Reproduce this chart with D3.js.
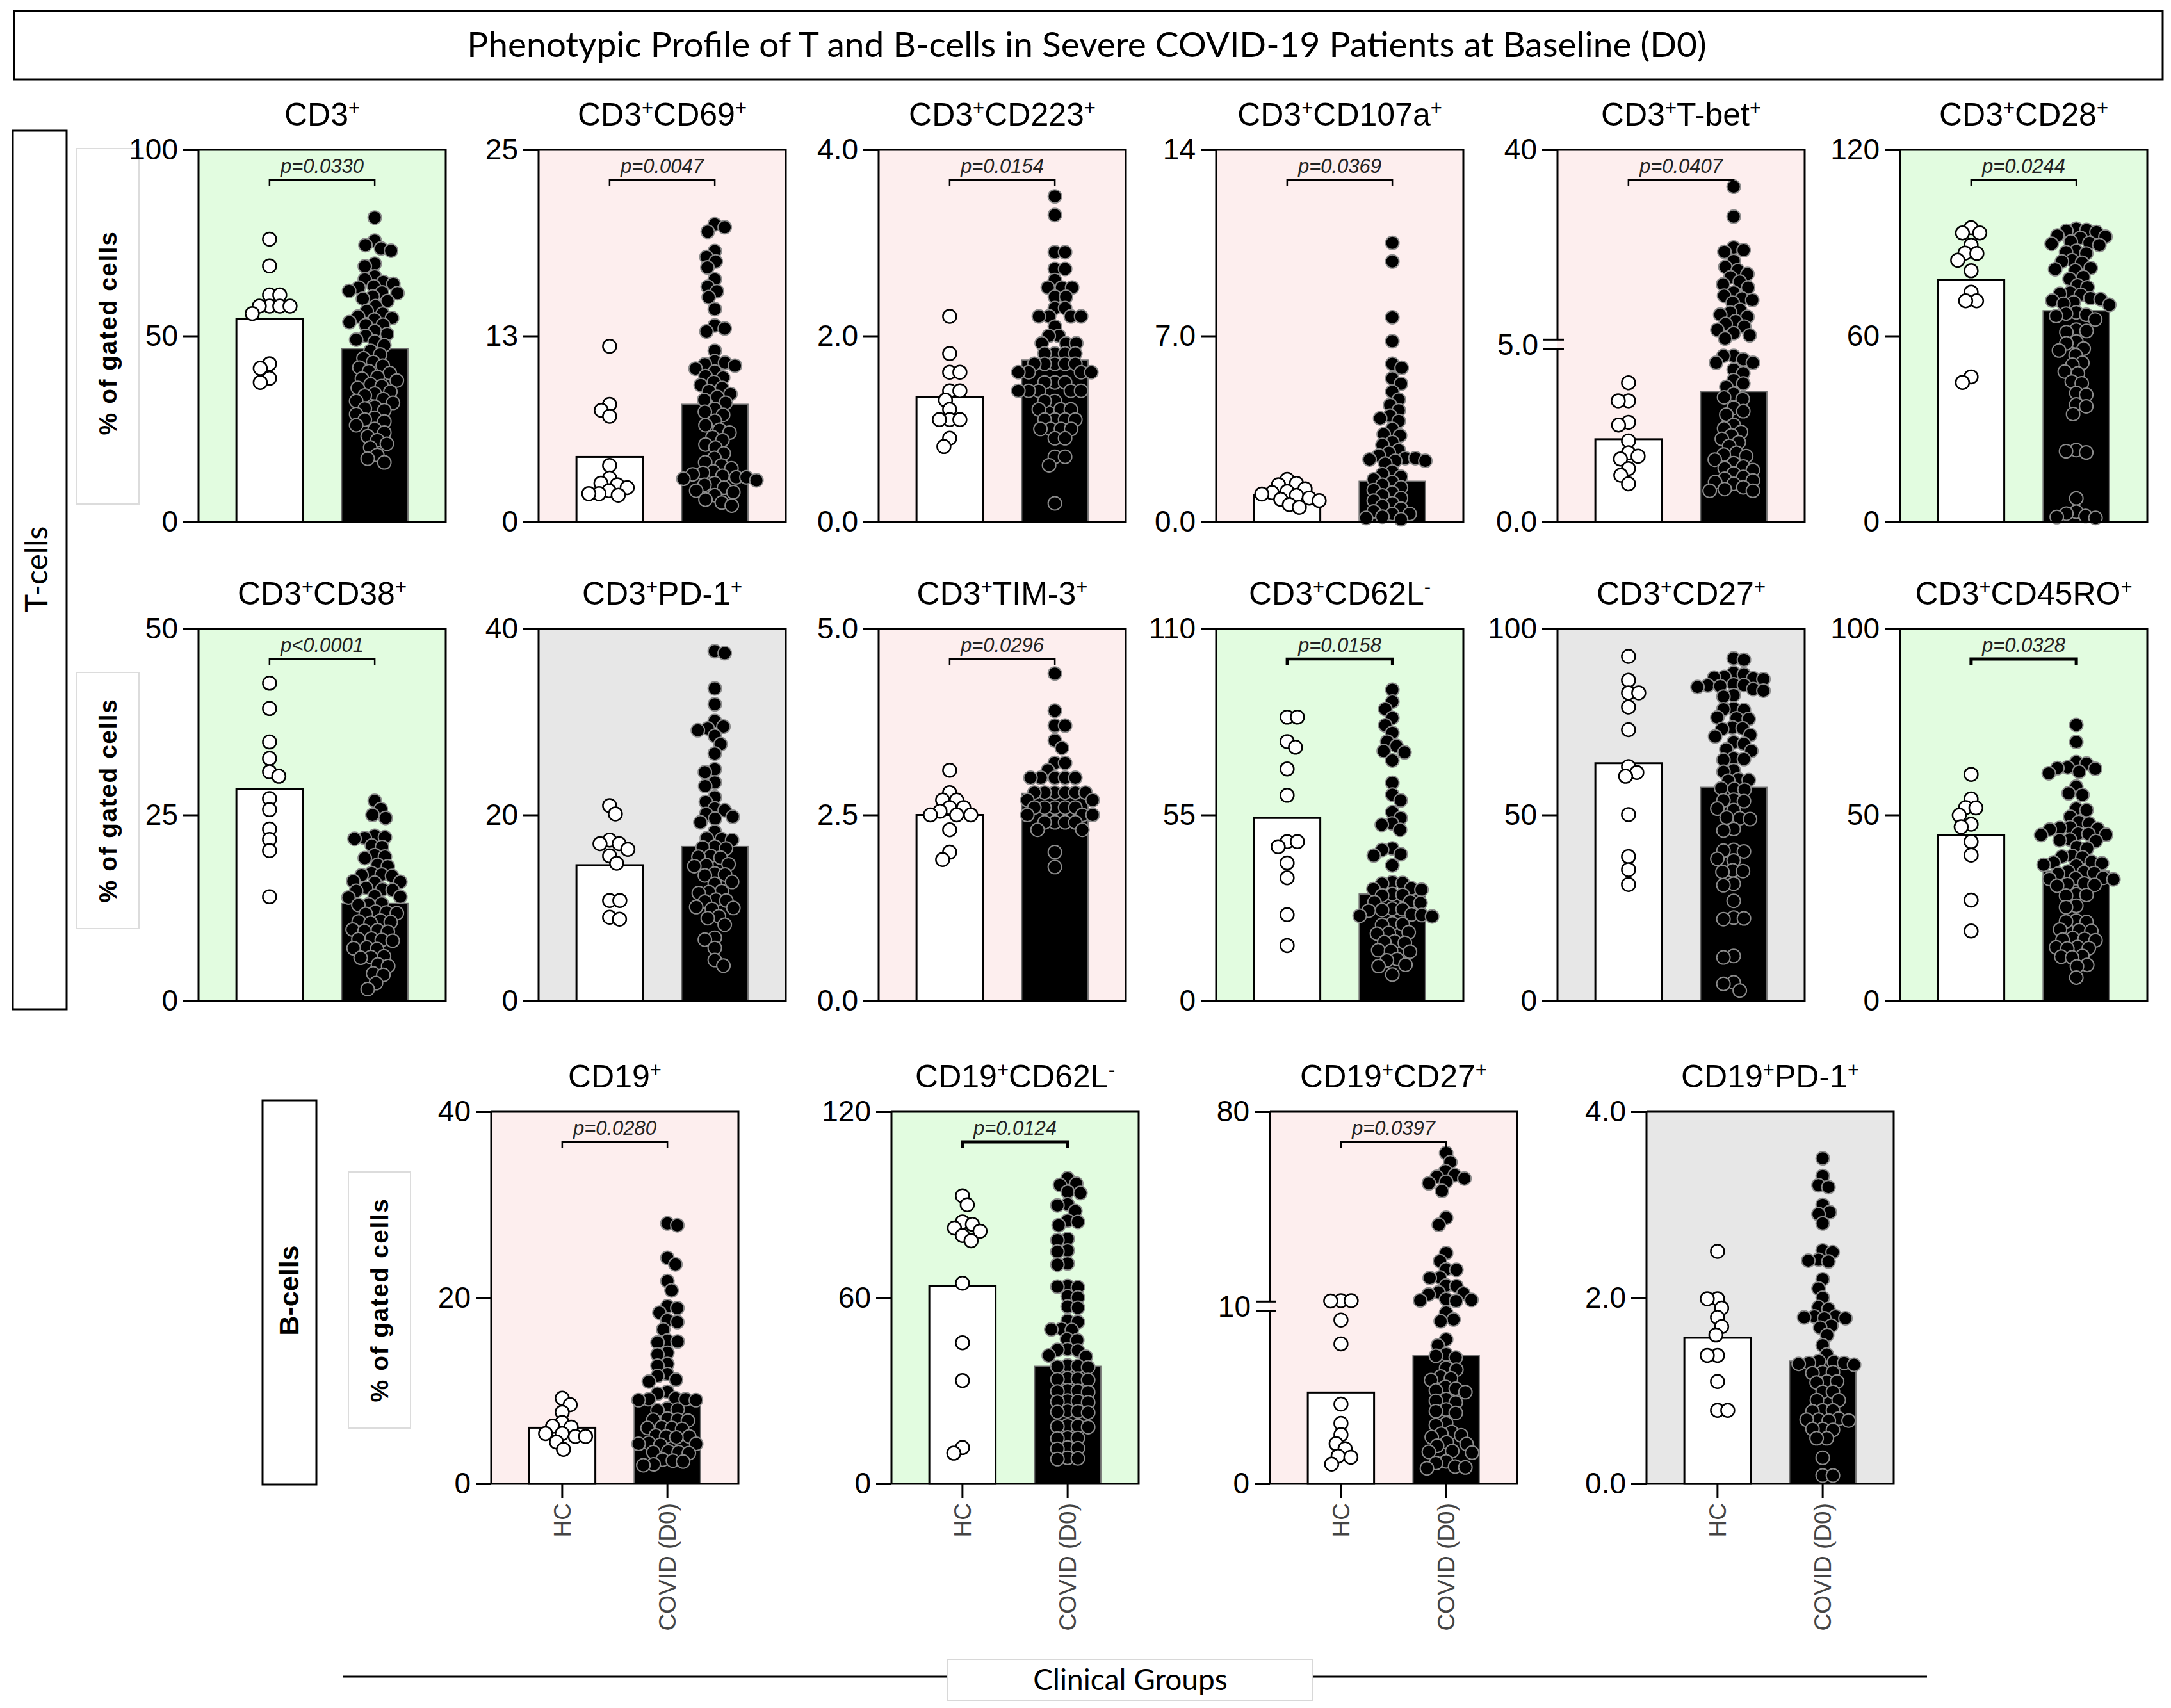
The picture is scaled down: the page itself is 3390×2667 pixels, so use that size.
<!DOCTYPE html>
<html>
<head>
<meta charset="utf-8">
<script src="https://cdn.jsdelivr.net/npm/d3@7"></script>
<style>
  html, body { margin: 0; padding: 0; background: #fff; }
  svg { display: block; }
</style>
</head>
<body>
<svg id="chart" width="3390" height="2667"></svg>
<script>
// ---- data ----
var GROUPS = ['HC', 'COVID (D0)'];
var TITLES = ['CD3^+', 'CD3^+CD69^+', 'CD3^+CD223^+', 'CD3^+CD107a^+', 'CD3^+T-bet^+', 'CD3^+CD28^+',
  'CD3^+CD38^+', 'CD3^+PD-1^+', 'CD3^+TIM-3^+', 'CD3^+CD62L^-', 'CD3^+CD27^+', 'CD3^+CD45RO^+',
  'CD19^+', 'CD19^+CD62L^-', 'CD19^+CD27^+', 'CD19^+PD-1^+'];
var Y_MAX = [100, 25, 4, 14, 40, 120, 50, 40, 5, 110, 100, 100, 40, 120, 80, 4];
var Y_TICKS = [[0, 50, 100], [0, 12.5, 25], [0, 2, 4], [0, 7, 14], [0, 5, 40], [0, 60, 120],
  [0, 25, 50], [0, 20, 40], [0, 2.5, 5], [0, 55, 110], [0, 50, 100], [0, 50, 100],
  [0, 20, 40], [0, 60, 120], [0, 10, 80], [0, 2, 4]];
var Y_TICK_LABELS = [['0', '50', '100'], ['0', '13', '25'], ['0.0', '2.0', '4.0'], ['0.0', '7.0', '14'], ['0.0', '5.0', '40'], ['0', '60', '120'],
  ['0', '25', '50'], ['0', '20', '40'], ['0.0', '2.5', '5.0'], ['0', '55', '110'], ['0', '50', '100'], ['0', '50', '100'],
  ['0', '20', '40'], ['0', '60', '120'], ['0', '10', '80'], ['0.0', '2.0', '4.0']];
var Y_BREAK = [null, null, null, null, 5, null, null, null, null, null, null, null, null, null, 10, null];
var P_LABELS = ['p=0.0330', 'p=0.0047', 'p=0.0154', 'p=0.0369', 'p=0.0407', 'p=0.0244',
  'p<0.0001', null, 'p=0.0296', 'p=0.0158', null, 'p=0.0328',
  'p=0.0280', 'p=0.0124', 'p=0.0397', null];
var BRACKET_W = [2.5, 2.5, 2.5, 2.5, 2.5, 2.5, 2.5, 2.5, 2.5, 4.5, 2.5, 5, 2.5, 5, 2.5, 2.5];
var BG = ['g', 'p', 'p', 'p', 'p', 'g', 'g', 'n', 'p', 'g', 'n', 'g', 'p', 'g', 'p', 'n'];
var BAR_HC = [54.6, 4.37, 1.34, 1.01, 2.39, 78.0, 28.5, 14.6, 2.5, 54.1, 63.9, 44.5, 6.03, 63.9, 5.28, 1.57];
var BAR_COVID = [46.6, 7.9, 1.74, 1.53, 3.77, 68.1, 13.1, 16.6, 2.79, 31.6, 57.4, 34.9, 8.5, 37.9, 7.4, 1.32];

var hc_cd3 = [76, 68.8, 61, 61, 58, 58, 58, 58, 56, 42.5, 41.3, 38.6, 37.5];
var covid_cd3 = [81.8, 75.6, 74.4, 73.5, 72.9, 69.4, 68.7, 66, 65.2, 64.5, 64, 63.3, 63, 62.1, 61.7, 61.5, 60.6, 60, 59.4, 58, 56.7, 56, 55.2, 54.8, 54.4, 53.7, 53, 52.9, 51.3, 50.5, 50, 49, 48.5, 47.5, 46, 45, 44, 43, 42, 41.5, 40.5, 40, 39, 38.5, 38, 37, 36.5, 36, 35, 34.5, 34, 33, 32.5, 32, 31, 30.5, 30, 29, 28, 27.5, 27, 26, 25, 24, 23, 22, 21, 20, 18, 17, 16];
var hc_cd69 = [11.8, 7.9, 7.5, 7.1, 3.8, 2.95, 2.6, 2.5, 2.3, 2.1, 1.9, 1.8, 1.9];
var covid_cd69 = [20, 19.8, 19.5, 18.2, 17.8, 17.5, 17.1, 16.3, 15.8, 15.5, 15.1, 14.3, 13.2, 13, 12.8, 11.5, 10.8, 10.7, 10.6, 10.5, 10.3, 10.1, 9.8, 9.7, 9.4, 9.2, 9, 8.8, 8.6, 8.4, 8.2, 8, 7.6, 7.4, 7.2, 6.8, 6.5, 6.2, 6, 5.7, 5.5, 5.2, 5, 4.6, 4.3, 4, 3.8, 3.6, 3.4, 3.3, 3.2, 3.1, 3.0, 3.0, 2.9, 2.8, 2.6, 2.5, 2.3, 2.1, 2.0, 1.8, 1.5, 1.3, 1.1];
var hc_cd223 = [2.21, 1.81, 1.61, 1.61, 1.41, 1.41, 1.31, 1.21, 1.10, 1.10, 1.10, 0.90, 0.81];
var covid_cd223 = [3.5, 3.3, 2.9, 2.9, 2.72, 2.72, 2.6, 2.52, 2.52, 2.52, 2.42, 2.42, 2.3, 2.3, 2.21, 2.21, 2.21, 2.21, 2.1, 2.0, 2.0, 1.92, 1.92, 1.92, 1.81, 1.81, 1.81, 1.81, 1.7, 1.7, 1.7, 1.7, 1.7, 1.61, 1.61, 1.61, 1.61, 1.5, 1.5, 1.5, 1.41, 1.41, 1.41, 1.41, 1.41, 1.3, 1.3, 1.21, 1.21, 1.21, 1.1, 1.1, 1.1, 1.1, 1.0, 1.0, 1.0, 1.0, 0.9, 0.9, 0.7, 0.7, 0.61, 0.2];
var hc_cd107a = [1.6, 1.45, 1.4, 1.25, 1.15, 1.1, 1.05, 1.0, 0.9, 0.85, 0.8, 0.65, 0.55];
var covid_cd107a = [10.5, 9.8, 7.7, 6.8, 5.95, 5.8, 5.4, 5.2, 4.9, 4.6, 4.4, 4.2, 4.0, 3.9, 3.8, 3.5, 3.3, 3.25, 3.0, 2.9, 2.7, 2.6, 2.5, 2.4, 2.4, 2.35, 2.3, 2.3, 2.2, 1.9, 1.8, 1.7, 1.6, 1.5, 1.4, 1.3, 1.2, 1.1, 1.0, 0.9, 0.8, 0.7, 0.6, 0.5, 0.4, 0.3, 0.3, 0.2, 0.15, 0.1];
var hc_tbet = [4.02, 3.5, 3.5, 2.88, 2.8, 2.34, 2.0, 1.9, 1.82, 1.54, 1.35, 1.1];
var covid_tbet = [33.2, 27.7, 22.0, 21.5, 21.2, 19.5, 18.4, 17.8, 17.1, 16.5, 15.7, 15.2, 14.6, 13.7, 13.1, 12.6, 12.3, 11.8, 10.5, 10.0, 9.6, 9.2, 8.4, 7.9, 7.4, 6.8, 6.2, 5.8, 5.2, 4.8, 4.8, 4.7, 4.6, 4.6, 4.4, 4.3, 4.1, 4.0, 3.9, 3.7, 3.6, 3.55, 3.3, 3.2, 3.1, 2.8, 2.7, 2.6, 2.5, 2.4, 2.3, 2.2, 2.0, 1.95, 1.9, 1.8, 1.7, 1.6, 1.55, 1.5, 1.4, 1.3, 1.25, 1.2, 1.15, 1.1, 1.0, 0.95, 0.9, 0.9];
var hc_cd28 = [94.9, 93.2, 93.2, 89.3, 86.7, 86.6, 84.4, 81.0, 74.1, 71.3, 71.3, 46.8, 45.0];
var covid_cd28 = [94.6, 94.2, 93.9, 93.5, 92.4, 92, 91.6, 90.4, 90, 89.7, 89.3, 87.4, 87, 86.6, 84.4, 84, 83.6, 81.9, 81.5, 81.1, 79, 78.4, 76.3, 75.7, 74, 73.6, 73.2, 72.2, 71.8, 71.4, 70.8, 70.4, 70, 67.6, 67.2, 66.8, 66.4, 65.3, 62, 61.6, 61.2, 58.2, 57.6, 55.9, 55.3, 53.8, 51.3, 50.7, 48.5, 47.9, 45.3, 44.7, 41.6, 41, 37.9, 37.3, 34.8, 23.2, 22.8, 22.4, 7.6, 3.3, 2.7, 1.9, 1.6, 1.3];
var hc_cd38 = [42.7, 39.3, 34.8, 32.6, 30.8, 30.2, 27.2, 25.7, 23.1, 21.7, 20.2, 14.0];
var covid_cd38 = [26.9, 25.8, 25, 24.6, 22.2, 22, 21.9, 21.8, 20.9, 20.7, 19.6, 19.4, 19.2, 18.3, 18.1, 17.2, 17.0, 16.9, 16.8, 16.1, 16.0, 15.9, 15.2, 15.0, 14.9, 14.8, 14.1, 14.0, 13.9, 13.1, 13.0, 12.9, 12.0, 11.9, 11.8, 11.7, 10.8, 10.7, 10.6, 10.5, 9.6, 9.5, 9.4, 9.3, 8.4, 8.3, 8.2, 8.1, 7.2, 7.1, 7.0, 6.0, 5.9, 5.8, 4.9, 4.7, 3.7, 3.5, 2.4, 1.6];
var hc_pd1 = [21.0, 20.1, 17.3, 16.9, 16.9, 16.3, 15.6, 14.8, 10.8, 10.8, 9.0, 8.8];
var covid_pd1 = [37.6, 37.4, 33.6, 31.9, 30.1, 29.5, 29.3, 29.1, 28.5, 27.6, 26.6, 24.9, 24.6, 23.5, 23.1, 21.9, 21.4, 20.7, 20.5, 20.1, 19.8, 19.6, 19.2, 18.2, 17.5, 17.4, 17.3, 16.6, 16.5, 16.4, 15.6, 15.5, 15.4, 14.7, 14.6, 14.5, 13.7, 13.6, 13.5, 12.8, 12.6, 11.8, 11.7, 11.6, 10.9, 10.8, 10.7, 10.1, 10.0, 9.9, 9.1, 8.9, 8.2, 6.8, 6.6, 5.7, 4.4, 3.8];
var hc_tim3 = [3.1, 2.8, 2.7, 2.7, 2.6, 2.6, 2.55, 2.5, 2.5, 2.5, 2.3, 2.0, 1.9];
var covid_tim3 = [4.4, 3.9, 3.7, 3.7, 3.5, 3.4, 3.2, 3.2, 3.1, 3.0, 3.0, 3.0, 3.0, 3.0, 2.8, 2.8, 2.8, 2.8, 2.8, 2.8, 2.7, 2.7, 2.6, 2.6, 2.6, 2.6, 2.6, 2.5, 2.5, 2.5, 2.4, 2.4, 2.4, 2.4, 2.3, 2.3, 2.0, 1.8];
var hc_cd62l = [83.9, 83.9, 76.7, 75, 68.6, 60.8, 47.1, 47.1, 45.6, 40.8, 36.4, 25.5, 16.4];
var covid_cd62l = [92, 88.5, 86.3, 83.7, 81.5, 79.3, 76.7, 75.4, 73.9, 73.5, 71.1, 64.5, 61, 59.3, 55.8, 54.1, 52.5, 52.1, 50.6, 45.1, 44.7, 43.4, 43.0, 40.1, 35.1, 34.9, 34.7, 33.3, 33.1, 32.9, 31.6, 31.4, 31.2, 29.4, 29.2, 29.0, 27.3, 27.1, 26.9, 26.7, 25.6, 25.4, 25.2, 25.0, 22.9, 22.7, 22.5, 20.3, 20.1, 19.9, 17.6, 17.4, 17.2, 15.0, 14.8, 14.6, 12.4, 12.0, 10.7, 10.3, 7.8];
var hc_cd27 = [92.6, 86.2, 82.8, 82.8, 79.0, 72.9, 63.0, 61.4, 60.4, 50.1, 38.8, 35.3, 31.3];
var covid_cd27 = [92.1, 91.7, 88.2, 87.8, 87.1, 86.9, 86.7, 86.5, 85.1, 84.9, 84.8, 84.6, 84.4, 83.8, 83.4, 82.2, 81.8, 78.6, 78.4, 78.2, 76.2, 76.0, 75.8, 73.5, 73.3, 73.1, 71.5, 71.1, 69.5, 69.1, 67.6, 67.2, 65.2, 65.0, 64.8, 62.0, 61.6, 59.6, 59.4, 59.2, 57.2, 57.0, 56.8, 54.1, 53.9, 53.7, 51.7, 51.3, 49.3, 49.1, 48.9, 46.2, 45.8, 40.6, 40.4, 40.2, 38.2, 37.8, 35.1, 34.9, 34.7, 31.5, 31.1, 26.9, 22.4, 22.2, 22.0, 12.1, 11.7, 5.0, 4.6, 2.8];
var hc_cd45ro = [60.9, 54.3, 52, 51.9, 49.9, 47.5, 46.8, 42.8, 39.2, 27.1, 18.8];
var covid_cd45ro = [74.2, 69.6, 64.2, 63.8, 62.8, 62.6, 62.4, 61.6, 61.2, 57.6, 55.8, 55.4, 51.7, 51.3, 49.5, 48.1, 47.7, 46.7, 46.5, 46.3, 46.1, 45.0, 44.9, 44.7, 44.6, 43.4, 43.2, 43.0, 41.4, 41.0, 39.0, 38.8, 38.6, 37.4, 37.2, 37.0, 36.6, 36.4, 34.8, 34.6, 34.4, 34.2, 33.1, 33.0, 32.8, 32.7, 31.6, 31.4, 31.2, 31.0, 28.7, 28.5, 28.3, 25.6, 25.2, 21.6, 21.4, 21.2, 19.2, 19.0, 18.8, 16.9, 16.7, 16.5, 16.3, 14.5, 14.4, 14.2, 14.1, 12.1, 11.9, 11.7, 9.7, 9.3, 6.3];
var hc_cd19 = [9.2, 8.5, 7.7, 6.6, 6.2, 6.1, 5.4, 5.4, 5.1, 5.1, 4.5, 3.7];
var covid_cd19 = [28.0, 27.8, 24.3, 23.6, 21.8, 20.8, 19.1, 18.9, 18.4, 17.6, 17.4, 16.6, 15.4, 15.3, 15.2, 14.1, 13.9, 12.9, 12.7, 11.8, 11.6, 11.2, 11.0, 9.9, 9.7, 9.2, 9.1, 9.1, 9.0, 9.0, 8.1, 8.0, 7.9, 7.0, 6.9, 6.9, 6.8, 6.1, 6.0, 6.0, 5.9, 5.2, 5.1, 5.1, 5.0, 4.4, 4.3, 4.3, 4.2, 3.5, 3.4, 3.4, 3.3, 2.6, 2.5, 2.4, 2.1, 2.0];
var hc_cd19cd62l = [92.9, 90, 84.5, 83.7, 82.5, 81.5, 80.1, 78.4, 64.7, 45.5, 33.3, 11.7, 9.9];
var covid_cd19cd62l = [98.6, 96.8, 96.4, 94.2, 93.8, 90.2, 89.8, 88, 84.9, 84.5, 83.4, 79, 78.6, 75.3, 74.9, 71.1, 70.7, 63.8, 63.6, 63.4, 60.5, 60.1, 57.2, 56.8, 52.6, 52.2, 50.0, 49.8, 49.6, 46.7, 46.3, 43.4, 43.2, 43.0, 41.4, 41.0, 38.2, 38.0, 37.8, 37.6, 34.1, 33.9, 33.7, 33.5, 30.2, 30.0, 29.8, 29.6, 26.9, 26.7, 26.5, 26.3, 23.6, 23.4, 23.2, 23.0, 18.9, 18.7, 18.5, 18.3, 15.0, 14.8, 14.6, 11.7, 11.5, 11.3, 8.4, 8.2, 8.0];
var hc_cd19cd27 = [10.3, 10.3, 10.2, 9.47, 8.09, 4.61, 3.5, 2.84, 2.32, 2.03, 1.6, 1.54, 1.14];
var covid_cd19cd27 = [64.8, 61.4, 58.1, 56.6, 56.0, 55.4, 54.2, 53.6, 50.8, 40.9, 38.3, 27.9, 24.9, 21.9, 21.7, 18.9, 18.7, 15.9, 15.7, 13.4, 13.0, 12.6, 10.9, 10.6, 10.4, 10.2,
  9.9, 9.5, 9.4, 8.35, 8.0, 7.5, 7.4, 7.3, 6.7, 6.6, 6.2, 6.1, 6.0, 5.6, 5.5, 5.4, 5.3, 4.9, 4.8, 4.7, 4.3, 4.2, 4.1, 3.5, 3.4, 3.0, 2.9, 2.8, 2.7, 2.4, 2.3, 2.2, 1.9, 1.85, 1.8, 1.3, 1.2, 1.0, 0.95, 0.9];
var hc_cd19pd1 = [2.5, 1.99, 1.99, 1.89, 1.79, 1.69, 1.6, 1.38, 1.38, 1.1, 0.79, 0.79];
var covid_cd19pd1 = [3.5, 3.31, 3.21, 3.19, 3.0, 2.92, 2.90, 2.8, 2.51, 2.49, 2.41, 2.40, 2.39, 2.2, 2.1, 2.0, 1.90, 1.88, 1.80, 1.80, 1.79, 1.78, 1.78, 1.70, 1.68, 1.6, 1.49, 1.39, 1.32, 1.31, 1.30, 1.30, 1.29, 1.28, 1.20, 1.20, 1.19, 1.10, 1.10, 1.09, 0.99, 0.99, 0.9, 0.9, 0.79, 0.79, 0.78, 0.70, 0.69, 0.69, 0.68, 0.68, 0.59, 0.59, 0.58, 0.49, 0.49, 0.28, 0.09, 0.09];

var HC_POINTS = [hc_cd3, hc_cd69, hc_cd223, hc_cd107a, hc_tbet, hc_cd28, hc_cd38, hc_pd1, hc_tim3, hc_cd62l, hc_cd27, hc_cd45ro, hc_cd19, hc_cd19cd62l, hc_cd19cd27, hc_cd19pd1];
var COVID_POINTS = [covid_cd3, covid_cd69, covid_cd223, covid_cd107a, covid_tbet, covid_cd28, covid_cd38, covid_pd1, covid_tim3, covid_cd62l, covid_cd27, covid_cd45ro, covid_cd19, covid_cd19cd62l, covid_cd19cd27, covid_cd19pd1];

// ---- layout ----
var ROW_TOP = [234, 982, 1736], PH = 581, PW = 386;
var COL_X = [[310, 841, 1372, 1899, 2432, 2967], [310, 841, 1372, 1899, 2432, 2967], [767, 1392, 1983, 2571]];
var BG_COLOR = { g: '#e2fce0', p: '#fdeeee', n: '#e7e7e7' };
var R = 10.5;
var FONT = '"Liberation Sans", Arial, sans-serif';
var CAL = 'Lato, "Open Sans", sans-serif';

var svg = d3.select('#chart');

// title box
svg.append('rect').attr('x', 22).attr('y', 17).attr('width', 3355).attr('height', 107)
  .attr('fill', '#fff').attr('stroke', '#000').attr('stroke-width', 3);
svg.append('text').attr('x', 1697).attr('y', 89).attr('text-anchor', 'middle')
  .style('font-family', CAL).style('font-size', '55px')
  .text('Phenotypic Profile of T and B-cells in Severe COVID-19 Patients at Baseline (D0)');

// side labels
svg.append('rect').attr('x', 20).attr('y', 204).attr('width', 84).attr('height', 1372)
  .attr('fill', '#fff').attr('stroke', '#000').attr('stroke-width', 3);
svg.append('text').attr('transform', 'translate(74,889) rotate(-90)').attr('text-anchor', 'middle')
  .style('font-family', CAL).style('font-size', '48px').text('T-cells');
svg.append('rect').attr('x', 410).attr('y', 1718).attr('width', 84).attr('height', 600)
  .attr('fill', '#fff').attr('stroke', '#000').attr('stroke-width', 3);
svg.append('text').attr('transform', 'translate(466,2015) rotate(-90)').attr('text-anchor', 'middle')
  .style('font-family', FONT).style('font-size', '43px').style('font-weight', 'bold').text('B-cells');

[[120, 232, 555, 520], [120, 1050, 400, 1250], [544, 1830, 400, 2030]].forEach(function (b) {
  svg.append('rect').attr('x', b[0]).attr('y', b[1]).attr('width', 97).attr('height', b[2])
    .attr('fill', '#fff').attr('stroke', '#dcdcdc').attr('stroke-width', 2);
  svg.append('text').attr('transform', 'translate(' + (b[0] + 62) + ',' + b[3] + ') rotate(-90)')
    .attr('text-anchor', 'middle').style('font-family', FONT).style('font-size', '39px')
    .style('font-weight', 'bold').style('letter-spacing', '1.5px').text('% of gated cells');
});

// bottom "Clinical Groups"
svg.append('line').attr('x1', 535).attr('x2', 3009).attr('y1', 2618).attr('y2', 2618)
  .attr('stroke', '#000').attr('stroke-width', 3);
svg.append('rect').attr('x', 1480).attr('y', 2591).attr('width', 570).attr('height', 64)
  .attr('fill', '#fff').attr('stroke', '#d8d8d8').attr('stroke-width', 2);
svg.append('text').attr('x', 1765).attr('y', 2639).attr('text-anchor', 'middle')
  .style('font-family', CAL).style('font-size', '46px').text('Clinical Groups');

function addTitle(sel, str) {
  var parts = str.split(/\^([+-])/);
  parts.forEach(function (p, k) {
    if (!p) return;
    var t = sel.append('tspan').text(p);
    if (k % 2) t.attr('baseline-shift', '55%').style('font-size', '31px');
  });
}

function makeY(i, top) {
  var bot = top + PH, b = Y_BREAK[i];
  if (b == null) {
    var s = d3.scaleLinear().domain([0, Y_MAX[i]]).range([bot, top]);
    return { f: s, lo: s, hi: null };
  }
  var lo = d3.scaleLinear().domain([0, b]).range([bot, bot - 0.465 * PH]);
  var hi = d3.scaleLinear().domain([b, Y_MAX[i]]).range([bot - 0.49 * PH, top]);
  return { f: function (v) { return v <= b ? lo(v) : hi(v); }, lo: lo, hi: hi };
}

// greedy beeswarm (Prism-like, dots may overlap a little)
function swarm(values, yf) {
  var pts = values.map(function (v) { return { v: v, y: yf(v) }; })
    .sort(function (a, b) { return a.y - b.y; });
  var placed = [], d2 = Math.pow(2 * R * 0.75, 2);
  pts.forEach(function (p, n) {
    var signs = n % 2 ? [1, -1] : [-1, 1], x = 0, ok = false;
    for (var s = 0; s < 400 && !ok; s += 0.5) {
      for (var k = 0; k < 2; k++) {
        var cx = s * signs[k];
        if (placed.every(function (q) { return (q.x - cx) * (q.x - cx) + (q.y - p.y) * (q.y - p.y) >= d2; })) {
          x = cx; ok = true; break;
        }
      }
    }
    p.x = x; placed.push(p);
  });
  return pts;
}

TITLES.forEach(function (title, i) {
  var row = i < 6 ? 0 : i < 12 ? 1 : 2;
  var col = row < 2 ? i % 6 : i - 12;
  var x0 = COL_X[row][col], top = ROW_TOP[row], bot = top + PH;
  var g = svg.append('g');
  var x = d3.scaleBand().domain(GROUPS).range([x0, x0 + PW]).paddingInner(0.37).paddingOuter(0.36);
  var bw = x.bandwidth();
  var Y = makeY(i, top), y = Y.f;

  g.append('rect').attr('x', x0).attr('y', top).attr('width', PW).attr('height', PH)
    .attr('fill', BG_COLOR[BG[i]]);

  // bars
  g.append('rect').attr('x', x(GROUPS[0])).attr('y', y(BAR_HC[i])).attr('width', bw)
    .attr('height', bot - y(BAR_HC[i])).attr('fill', '#fff').attr('stroke', '#000').attr('stroke-width', 3);
  g.append('rect').attr('x', x(GROUPS[1])).attr('y', y(BAR_COVID[i])).attr('width', bw)
    .attr('height', bot - y(BAR_COVID[i])).attr('fill', '#000').attr('stroke', '#6e6e6e').attr('stroke-width', 2);

  // dots
  var cHC = x(GROUPS[0]) + bw / 2, cCV = x(GROUPS[1]) + bw / 2;
  g.append('g').selectAll('circle').data(swarm(HC_POINTS[i], y)).join('circle')
    .attr('cx', function (d) { return cHC + d.x; }).attr('cy', function (d) { return d.y; }).attr('r', R)
    .attr('fill', '#fff').attr('stroke', '#000').attr('stroke-width', 2.5);
  g.append('g').selectAll('circle').data(swarm(COVID_POINTS[i], y)).join('circle')
    .attr('cx', function (d) { return cCV + d.x; }).attr('cy', function (d) { return d.y; }).attr('r', R)
    .attr('fill', '#000').attr('stroke', '#8c8c8c').attr('stroke-width', 2);

  // frame
  var framePath = 'M' + x0 + ',' + top + 'H' + (x0 + PW) + 'V' + bot + 'H' + x0;
  if (Y_BREAK[i] == null) framePath += 'V' + top;
  else framePath += 'V' + Y.lo(Y_BREAK[i]) + 'M' + x0 + ',' + Y.hi(Y_BREAK[i]) + 'V' + top;
  g.append('path').attr('d', framePath).attr('fill', 'none').attr('stroke', '#000').attr('stroke-width', 3);

  // y axis
  function styleAxis(a) {
    a.select('.domain').remove();
    a.selectAll('.tick line').attr('stroke-width', 3);
    a.selectAll('.tick text').style('font-family', FONT).style('font-size', '46px').attr('fill', '#000');
  }
  var labs = Y_TICK_LABELS[i];
  if (Y_BREAK[i] == null) {
    g.append('g').attr('transform', 'translate(' + x0 + ',0)')
      .call(d3.axisLeft(Y.lo).tickValues(Y_TICKS[i]).tickSize(24).tickPadding(8)
        .tickFormat(function (d, k) { return labs[k]; }))
      .call(styleAxis);
  } else {
    g.append('g').attr('transform', 'translate(' + x0 + ',0)')
      .call(d3.axisLeft(Y.lo).tickValues([0]).tickSize(24).tickPadding(8).tickFormat(function () { return labs[0]; }))
      .call(styleAxis);
    g.append('g').attr('transform', 'translate(' + x0 + ',0)')
      .call(d3.axisLeft(Y.hi).tickValues([Y_MAX[i]]).tickSize(24).tickPadding(8).tickFormat(function () { return labs[2]; }))
      .call(styleAxis);
    [Y.lo(Y_BREAK[i]), Y.hi(Y_BREAK[i])].forEach(function (yy) {
      g.append('line').attr('x1', x0 - 22).attr('x2', x0 + 10).attr('y1', yy).attr('y2', yy)
        .attr('stroke', '#000').attr('stroke-width', 3);
    });
    g.append('text').attr('x', x0 - 30).attr('y', (Y.lo(Y_BREAK[i]) + Y.hi(Y_BREAK[i])) / 2).attr('dy', '0.35em')
      .attr('text-anchor', 'end').style('font-family', FONT).style('font-size', '46px').text(labs[1]);
  }

  // title
  var t = g.append('text').attr('x', x0 + PW / 2).attr('y', top - 38).attr('text-anchor', 'middle')
    .style('font-family', FONT).style('font-size', '50px');
  addTitle(t, title);

  // p-value bracket
  if (P_LABELS[i]) {
    g.append('path').attr('d', 'M' + cHC + ',' + (top + 56) + 'V' + (top + 47) + 'H' + cCV + 'V' + (top + 56))
      .attr('fill', 'none').attr('stroke', '#000').attr('stroke-width', BRACKET_W[i]);
    g.append('text').attr('x', (cHC + cCV) / 2).attr('y', top + 36).attr('text-anchor', 'middle')
      .style('font-family', FONT).style('font-size', '31px').style('font-style', 'italic')
      .attr('fill', '#222').text(P_LABELS[i]);
  }

  // x axis labels on the bottom row
  if (row === 2) {
    GROUPS.forEach(function (gname) {
      var cx = x(gname) + bw / 2;
      g.append('line').attr('x1', cx).attr('x2', cx).attr('y1', bot).attr('y2', bot + 22)
        .attr('stroke', '#000').attr('stroke-width', 3);
      g.append('text').attr('transform', 'translate(' + cx + ',' + (bot + 30) + ') rotate(-90)')
        .attr('dy', '0.35em').attr('text-anchor', 'end').style('font-family', FONT)
        .style('font-size', '37px').attr('fill', '#444').text(gname);
    });
  }
});
</script>
</body>
</html>
